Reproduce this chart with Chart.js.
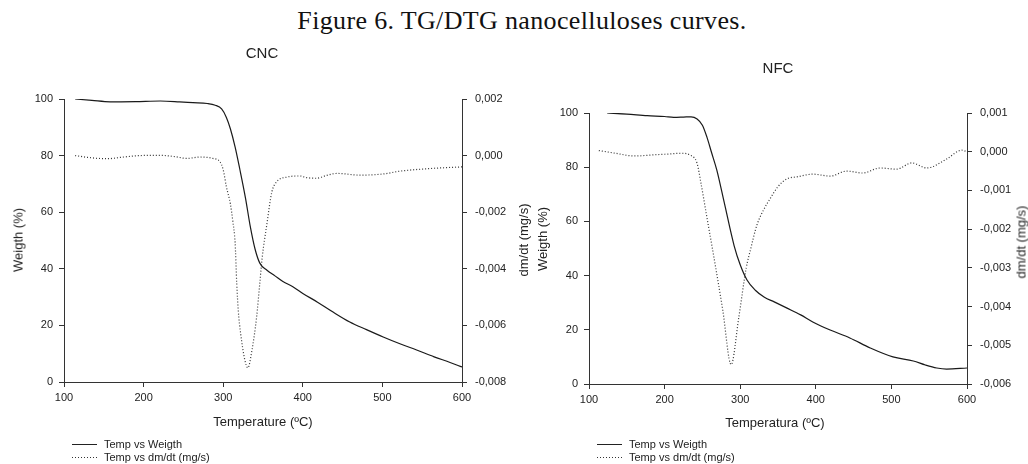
<!DOCTYPE html>
<html>
<head>
<meta charset="utf-8">
<title>TG/DTG nanocelluloses curves</title>
<script src="https://cdn.jsdelivr.net/npm/chart.js@4.4.1/dist/chart.umd.min.js"></script>
<style>
    html, body { margin: 0; padding: 0; background: #fff; }
    body {
        width: 1028px; height: 464px; position: relative; overflow: hidden;
        font-family: "Liberation Sans", Arial, sans-serif; color: #222;
    }
    .panel { position: absolute; top: 0; width: 514px; height: 464px; }
    .lbl { position: absolute; white-space: nowrap; transform: translate(-50%, -50%); font-size: 13px; }
    .lbl.rot { transform: translate(-50%, -50%) rotate(-90deg); }
    .lbl.head { font-size: 15px; }
    .lbl.fig { font-family: "Liberation Serif", "Times New Roman", serif; font-size: 26px; letter-spacing: 0.35px; color: #111; }
    .legend { position: absolute; font-size: 11px; line-height: 13px; }
    .legend .row { display: flex; align-items: center; height: 13px; }
    .legend .swatch { display: inline-block; width: 25px; height: 1px; margin-right: 7px; background: #222; }
    .legend .swatch.dot { background: repeating-linear-gradient(to right, #333 0 1px, transparent 1px 3px); }
</style>
</head>
<body>
<div class="lbl fig" style="left:522px; top:21px;">Figure 6. TG/DTG nanocelluloses curves.</div>

<div class="panel" style="left:0;"><canvas id="cncChart"></canvas></div>
<div class="panel" style="left:514px;"><canvas id="nfcChart"></canvas></div>

<div class="lbl head" style="left:262px; top:52px;">CNC</div>
<div class="lbl rot" style="left:18px; top:240px;">Weigth (%)</div>
<div class="lbl rot" style="left:523px; top:240px;">dm/dt (mg/s)</div>
<div class="lbl" style="left:263px; top:421px;">Temperature (ºC)</div>
<div class="legend" id="cncLegend" style="left:72px; top:438px;"></div>

<div class="lbl head" style="left:778px; top:67px;">NFC</div>
<div class="lbl rot" style="left:542px; top:239px;">Weigth (%)</div>
<div class="lbl rot" style="left:1021px; top:242px;">dm/dt (mg/s)</div>
<div class="lbl" style="left:775px; top:422px;">Temperatura (ºC)</div>
<div class="legend" id="nfcLegend" style="left:597px; top:438px;"></div>

<script>
// Series names (same for both panels)
const seriesNames = ["Temp vs Weigth", "Temp vs dm/dt (mg/s)"];

// Axis ticks
const tempTicks = [100, 200, 300, 400, 500, 600];
const weightTicks = [0, 20, 40, 60, 80, 100];
const cncDtgTicks = [0.002, 0, -0.002, -0.004, -0.006, -0.008];
const nfcDtgTicks = [0.001, 0, -0.001, -0.002, -0.003, -0.004, -0.005, -0.006];

// CNC - weight (%)
const cncWeightT = [114, 135, 158, 190, 221, 245, 262, 280, 290, 298, 304, 309, 315, 321, 328, 334, 340, 346, 355, 365, 375, 388, 400, 418, 438, 459, 480, 501, 522, 543, 565, 585, 600];
const cncWeight = [100, 99.5, 99.0, 99.1, 99.3, 99.0, 98.7, 98.4, 97.8, 96.5, 93.5, 89.5, 83, 75, 65, 55, 47, 42, 39.5, 37.5, 35.5, 33.6, 31.3, 28.3, 24.7, 21.2, 18.5, 15.9, 13.5, 11.3, 8.9, 6.9, 5.3];

// CNC - dm/dt (mg/s)
const cncDtgT = [114, 135, 154, 175, 195, 221, 240, 254, 271, 287, 296, 300, 304, 309, 312, 315, 317, 319, 322, 327, 331, 336, 342, 346, 349, 355, 361, 367, 380, 396, 405, 417, 430, 443, 472, 501, 522, 564, 600];
const cncDtg = [0.0, -0.00008, -0.00011, -0.00005, 0.0, 0.00001, -0.00004, -0.0001, -0.00005, -0.0001, -0.00022, -0.0005, -0.0011, -0.0017, -0.0023, -0.0031, -0.0045, -0.0055, -0.0063, -0.0072, -0.0075, -0.0069, -0.0057, -0.0045, -0.0036, -0.0024, -0.0013, -0.00093, -0.00076, -0.00072, -0.00078, -0.0008, -0.0007, -0.00063, -0.00069, -0.00065, -0.00055, -0.00045, -0.0004];

// NFC - weight (%)
const nfcWeightT = [124, 150, 177, 200, 212, 225, 235, 243, 250, 256, 262, 269, 279, 292, 300, 309, 320, 332, 345, 362, 380, 396, 419, 445, 472, 502, 529, 545, 560, 573, 600];
const nfcWeight = [100, 99.6, 99.0, 98.7, 98.4, 98.5, 98.6, 97.8, 95.5, 91.1, 85.5, 79, 66.8, 51, 44, 38.4, 34.6, 32, 30.3, 28, 25.5, 22.9, 19.9, 17, 13.3, 10, 8.5, 7, 5.9, 5.5, 5.9];

// NFC - dm/dt (mg/s)
const nfcDtgT = [113, 135, 160, 186, 205, 222, 235, 243, 248, 256, 265, 277, 288, 298, 308, 314, 322, 331, 340, 350, 362, 375, 396, 419, 441, 462, 485, 507, 527, 547, 573, 593, 600];
const nfcDtg = [0.00003, -0.00004, -0.00011, -0.00008, -0.00006, -0.00004, -0.0001, -0.0003, -0.0008, -0.0017, -0.0027, -0.0041, -0.0055, -0.0043, -0.003, -0.0025, -0.0019, -0.0015, -0.0012, -0.0009, -0.0007, -0.00065, -0.00058, -0.00063, -0.0005, -0.00055, -0.00042, -0.00045, -0.00029, -0.00042, -0.00019, 0.00004, 0.0];

const FONT = "'Liberation Sans', Arial, sans-serif";
const INK = "#222";
Chart.defaults.font.family = FONT;

function toPoints(xs, ys) {
    return xs.map((x, i) => ({ x: x, y: ys[i] }));
}

function fixedTicks(values) {
    return scale => { scale.ticks = values.map(v => ({ value: v })); };
}

function axisStyle(padding) {
    return {
        grid: { display: true, drawOnChartArea: false, drawTicks: true, tickLength: 5, color: "#333", lineWidth: 1 },
        border: { display: true, color: "#333", width: 1 },
        ticks: { color: INK, padding: padding, font: { family: FONT, size: 11 } },
    };
}

function makePanel(canvasId, p) {
    const ctx = document.getElementById(canvasId).getContext("2d");
    const x = axisStyle(4);
    const y = axisStyle(6);
    const y2 = axisStyle(8);
    // comma decimals on the right axis, e.g. -0,002
    y2.ticks.callback = v => v.toFixed(3).replace(".", ",");

    return new Chart(ctx, {
        type: "line",
        data: {
            datasets: [
                {
                    label: seriesNames[0],
                    data: toPoints(p.weightT, p.weight),
                    yAxisID: "y",
                    borderColor: "#1a1a1a",
                    borderWidth: 1.2,
                    pointRadius: 0,
                    cubicInterpolationMode: "monotone",
                    fill: false,
                },
                {
                    label: seriesNames[1],
                    data: toPoints(p.dtgT, p.dtg),
                    yAxisID: "y2",
                    borderColor: "#333",
                    borderWidth: 1.2,
                    borderDash: [1, 2],
                    pointRadius: 0,
                    cubicInterpolationMode: "monotone",
                    fill: false,
                },
            ],
        },
        options: {
            animation: false,
            responsive: true,
            maintainAspectRatio: false,
            layout: { padding: { top: p.top, left: 0, right: 0, bottom: 0 } },
            plugins: { legend: { display: false }, tooltip: { enabled: false } },
            scales: {
                x: Object.assign(x, {
                    type: "linear", min: 100, max: 600,
                    afterBuildTicks: fixedTicks(tempTicks),
                    afterFit: s => { s.height = p.xH; },
                }),
                y: Object.assign(y, {
                    position: "left", min: 0, max: 100,
                    afterBuildTicks: fixedTicks(weightTicks),
                    afterFit: s => { s.width = p.yW; },
                }),
                y2: Object.assign(y2, {
                    position: "right", min: p.dtgTicks[p.dtgTicks.length - 1], max: p.dtgTicks[0],
                    afterBuildTicks: fixedTicks(p.dtgTicks),
                    afterFit: s => { s.width = p.y2W; },
                }),
            },
        },
    });
}

// small html legend: solid line for weight, dotted for dm/dt
function buildLegend(id) {
    const el = document.getElementById(id);
    seriesNames.forEach((name, i) => {
        const row = document.createElement("div");
        row.className = "row";
        row.innerHTML = `<span class="swatch${i === 1 ? " dot" : ""}"></span><span>${name}</span>`;
        el.appendChild(row);
    });
}

makePanel("cncChart", {
    weightT: cncWeightT, weight: cncWeight, dtgT: cncDtgT, dtg: cncDtg,
    dtgTicks: cncDtgTicks, top: 99, xH: 82, yW: 64, y2W: 52,
});
makePanel("nfcChart", {
    weightT: nfcWeightT, weight: nfcWeight, dtgT: nfcDtgT, dtg: nfcDtg,
    dtgTicks: nfcDtgTicks, top: 113, xH: 80, yW: 75, y2W: 61,
});

buildLegend("cncLegend");
buildLegend("nfcLegend");
</script>
</body>
</html>
